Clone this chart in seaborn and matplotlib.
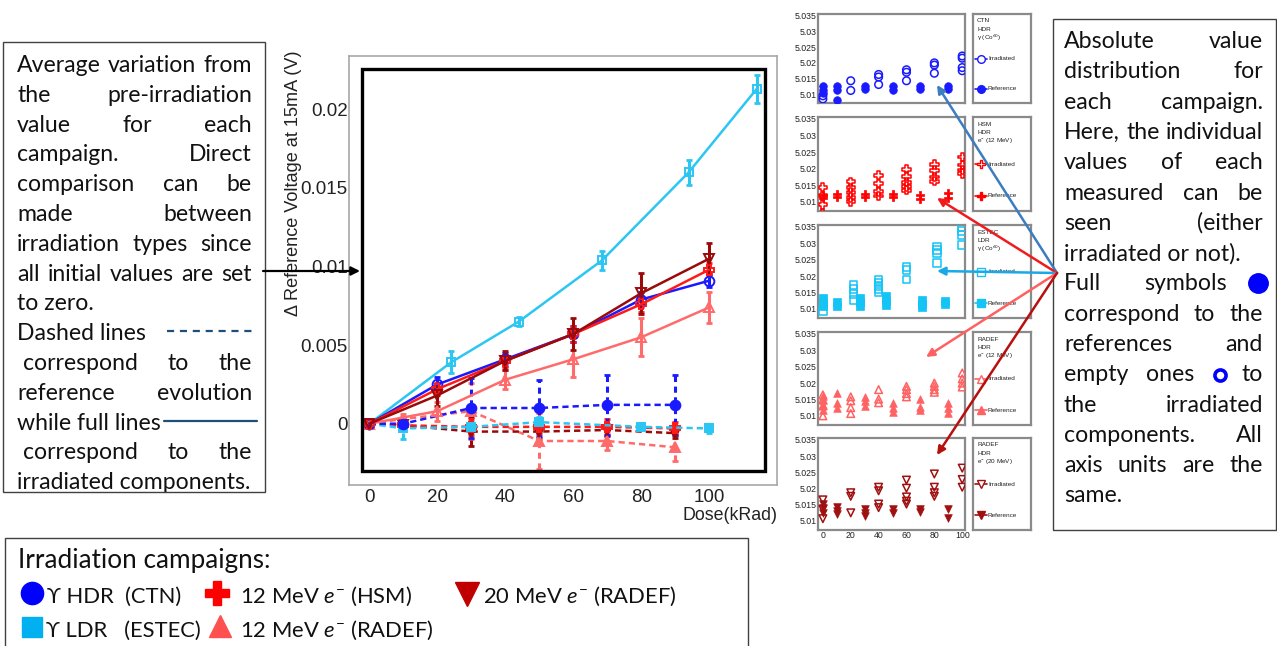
import numpy as np
import pandas as pd
import matplotlib
matplotlib.use("Agg")
import matplotlib.pyplot as plt
import seaborn as sns
from matplotlib.patches import Rectangle, FancyArrowPatch
from matplotlib.lines import Line2D
from matplotlib.ticker import MultipleLocator, FuncFormatter, FixedLocator

# ---------------- data: main plot (delta reference voltage, V) ----------------
dose_irr = [0, 20, 40, 60, 80, 100]
dose_irr_estec = [0, 24, 44, 68.5, 94, 114]
dose_ref = [0, 10, 30, 50, 70, 90]
dose_ref_estec = [0, 10, 30, 50, 80, 100]

ctn_irr = [0, 0.0025, 0.0041, 0.0057, 0.0079, 0.0091]
ctn_irr_err = [0, 0.0005, 0.0004, 0.0005, 0.0005, 0.0004]
hsm_irr = [0, 0.0022, 0.0040, 0.0057, 0.0076, 0.0098]
hsm_irr_err = [0, 0.0004, 0.0004, 0.0005, 0.0005, 0.0004]
estec_irr = [0, 0.0039, 0.0065, 0.0104, 0.0160, 0.0213]
estec_irr_err = [0, 0.0007, 0.0003, 0.0006, 0.0008, 0.0009]
radef12_irr = [0, 0.0008, 0.0028, 0.0041, 0.0055, 0.0074]
radef12_irr_err = [0, 0.0006, 0.0006, 0.0011, 0.0012, 0.0010]
radef20_irr = [0, 0.0018, 0.0040, 0.0057, 0.0083, 0.0105]
radef20_irr_err = [0, 0.0007, 0.0006, 0.0010, 0.0013, 0.0010]

ctn_ref = [0, 0.0, 0.0010, 0.0010, 0.0012, 0.0012]
ctn_ref_err = [0, 0.0003, 0.0019, 0.0018, 0.0019, 0.0019]
hsm_ref = [0, -0.0001, -0.0002, -0.0002, -0.0002, -0.0003]
hsm_ref_err = [0, 0.0003, 0.0005, 0.0004, 0.0005, 0.0004]
estec_ref = [0, -0.0003, -0.0002, 0.0001, -0.0002, -0.0003]
estec_ref_err = [0, 0.0007, 0.0003, 0.0003, 0.0002, 0.0003]
radef12_ref = [0, 0.0003, 0.0008, -0.0011, -0.0011, -0.0015]
radef12_ref_err = [0, 0.0003, 0.0018, 0.0018, 0.0006, 0.0009]
radef20_ref = [0, -0.0001, -0.0005, -0.0005, -0.0004, -0.0006]
radef20_ref_err = [0, 0.0002, 0.0009, 0.0004, 0.0004, 0.0003]

y_ticks = [0, 0.005, 0.01, 0.015, 0.02]
y_tick_labels = ["0", "0.005", "0.01", "0.015", "0.02"]
x_ticks = [0, 20, 40, 60, 80, 100]

# ---------------- data: small panels (absolute values, V) ----------------
p1_irr_x = [0, 0, 20, 20, 40, 40, 40, 60, 60, 60, 80, 80, 80, 100, 100, 100, 100]
p1_irr_y = [5.0085, 5.0095, 5.0143, 5.0112, 5.0163, 5.0155, 5.0131, 5.0178, 5.0170, 5.0143,
            5.0200, 5.0193, 5.0167, 5.0222, 5.0215, 5.0185, 5.0175]
p1_ref_x = [0, 0, 0, 10, 10, 10, 30, 30, 50, 50, 70, 70, 90, 90]
p1_ref_y = [5.0125, 5.0115, 5.0105, 5.0125, 5.0115, 5.0082, 5.0125, 5.0117, 5.0125, 5.0115,
            5.0125, 5.0117, 5.0125, 5.0117]

p2_irr_x = [0, 0, 0, 0, 20, 20, 20, 20, 20, 40, 40, 40, 40, 60, 60, 60, 60, 60,
            80, 80, 80, 80, 100, 100, 100, 100]
p2_irr_y = [5.0144, 5.0118, 5.0092, 5.0066, 5.0160, 5.0142, 5.0128, 5.0113, 5.0100,
            5.0180, 5.0154, 5.0131, 5.0117, 5.0198, 5.0177, 5.0159, 5.0146, 5.0135,
            5.0212, 5.0194, 5.0175, 5.0162, 5.0235, 5.0211, 5.0196, 5.0185]
p2_ref_x = [0, 0, 10, 10, 30, 30, 50, 50, 70, 70, 90, 90]
p2_ref_y = [5.0120, 5.0110, 5.0122, 5.0113, 5.0122, 5.0113, 5.0122, 5.0113, 5.0120, 5.0108,
            5.0125, 5.0110]

p3_irr_x = [0, 22, 22, 22, 22, 40, 40, 40, 40, 40, 60, 60, 60, 82, 82, 82, 82, 100, 100, 100, 100]
p3_irr_y = [5.0093, 5.0172, 5.0160, 5.0145, 5.0127, 5.0190, 5.0180, 5.0170, 5.0160, 5.0152,
            5.0228, 5.0218, 5.0190, 5.0290, 5.0280, 5.0270, 5.0240, 5.0350, 5.0338, 5.0325, 5.0295]
p3_ref_x = [0, 0, 0, 10, 10, 27, 27, 27, 45, 45, 45, 71, 71, 71, 88, 88]
p3_ref_y = [5.0133, 5.0120, 5.0108, 5.0122, 5.0110, 5.0133, 5.0122, 5.0110, 5.0140, 5.0125,
            5.0112, 5.0128, 5.0115, 5.0105, 5.0125, 5.0115]

p4_irr_x = [0, 0, 0, 0, 20, 20, 20, 20, 40, 40, 40, 60, 60, 60, 60, 80, 80, 80, 80,
            100, 100, 100, 100]
p4_irr_y = [5.0164, 5.0149, 5.0130, 5.0100, 5.0158, 5.0146, 5.0125, 5.0107, 5.0180, 5.0151,
            5.0140, 5.0190, 5.0180, 5.0168, 5.0158, 5.0200, 5.0190, 5.0180, 5.0172,
            5.0231, 5.0213, 5.0200, 5.0188]
p4_ref_x = [0, 0, 0, 0, 10, 10, 10, 30, 30, 30, 50, 50, 50, 70, 70, 70, 90, 90, 90]
p4_ref_y = [5.0160, 5.0148, 5.0133, 5.0118, 5.0170, 5.0138, 5.0125, 5.0158, 5.0146, 5.0130,
            5.0138, 5.0125, 5.0113, 5.0150, 5.0128, 5.0118, 5.0138, 5.0123, 5.0108]

p5_irr_x = [0, 0, 0, 20, 20, 20, 40, 40, 40, 40, 60, 60, 60, 60, 60, 80, 80, 80, 80, 100, 100, 100]
p5_irr_y = [5.0165, 5.0136, 5.0107, 5.0187, 5.0176, 5.0125, 5.0204, 5.0193, 5.0152, 5.0141,
            5.0226, 5.0201, 5.0174, 5.0161, 5.0152, 5.0245, 5.0204, 5.0187, 5.0176,
            5.0263, 5.0228, 5.0204]
p5_ref_x = [0, 0, 0, 10, 10, 10, 30, 30, 30, 50, 50, 70, 70, 90, 90]
p5_ref_y = [5.0152, 5.0139, 5.0125, 5.0143, 5.0132, 5.0122, 5.0136, 5.0125, 5.0114, 5.0136,
            5.0125, 5.0136, 5.0127, 5.0136, 5.0109]

small_y_ticks = [5.01, 5.015, 5.02, 5.025, 5.03, 5.035]
small_y_labels = ["5.01", "5.015", "5.02", "5.025", "5.03", "5.035"]
small_x_ticks = [0, 20, 40, 60, 80, 100]

panel_titles = [["CTN", "HDR", "γ (Co$^{60}$)"],
                ["HSM", "HDR", "e$^{-}$ (12 MeV)"],
                ["ESTEC", "LDR", "γ (Co$^{60}$)"],
                ["RADEF", "HDR", "e$^{-}$ (12 MeV)"],
                ["RADEF", "HDR", "e$^{-}$ (20 MeV)"]]

legend_title = "Irradiation campaigns:"
legend_labels = ["ϒ HDR  (CTN)", "12 MeV $e^{-}$ (HSM)", "20 MeV $e^{-}$ (RADEF)",
                 "ϒ LDR   (ESTEC)", "12 MeV $e^{-}$ (RADEF)"]

left_lines = [("Average variation from", "j"), ("the pre-irradiation", "j"),
              ("value for each", "j"), ("campaign. Direct", "j"),
              ("comparison can be", "j"), ("made between", "j"),
              ("irradiation types since", "j"), ("all initial values are  set", "j"),
              ("to zero.", "l"), ("Dashed lines", "l"), ("correspond to the", "ji"),
              ("reference evolution", "j"), ("while full lines", "l"),
              ("correspond to the", "ji"), ("irradiated components.", "l")]
right_lines = [("Absolute value", "j"), ("distribution for", "j"), ("each campaign.", "j"),
               ("Here, the individual", "j"), ("values of each", "j"),
               ("measured can be", "j"), ("seen (either", "j"), ("irradiated or not).", "l"),
               ("Full symbols", "full"), ("correspond to the", "j"), ("references and", "j"),
               ("empty ones", "empty"), ("the irradiated", "j"), ("components. All", "j"),
               ("axis units are the", "j"), ("same.", "l")]

# ---------------- style ----------------
C_BLUE = "#1a1aff"
C_CYAN = "#2cc6f2"
C_RED = "#ff1a1a"
C_SALMON = "#ff6b6b"
C_DRED = "#9a0a0a"

W, H = 1277, 646
sns.set_theme(style="white")
plt.rcParams["font.family"] = ["Liberation Sans", "DejaVu Sans"]
plt.rcParams["mathtext.fontset"] = "custom"
plt.rcParams["mathtext.rm"] = "Lato"
plt.rcParams["mathtext.it"] = "Lato:italic"
plt.rcParams["mathtext.bf"] = "Lato:bold"
SLIDE = ["Lato", "DejaVu Sans"]
ROOTF = ["Liberation Sans", "DejaVu Sans"]

fig = plt.figure(figsize=(W / 100, H / 100), dpi=100)
fig.patch.set_facecolor("white")
R = fig.canvas.get_renderer()


def fx(x):
    return x / W


def fy(y):
    return 1 - y / H


def measure(txt, size, family):
    t = fig.text(0, 0, txt, fontsize=size, family=family)
    w = t.get_window_extent(renderer=R).width
    t.remove()
    return w


def fit(txt, width, family):
    return 10 * width / measure(txt, 10, family)


def box(x0, y0, x1, y1, ec="#404040", lw=1.0):
    fig.add_artist(Rectangle((fx(x0), fy(y1)), fx(x1) - fx(x0), fy(y0) - fy(y1),
                             transform=fig.transFigure, fill=False, ec=ec, lw=lw, zorder=5))


def arrow(p0, p1, color, lw=1.8, ms=12):
    fig.add_artist(FancyArrowPatch((fx(p0[0]), fy(p0[1])), (fx(p1[0]), fy(p1[1])),
                                   transform=fig.transFigure, arrowstyle="-|>",
                                   mutation_scale=ms, color=color, lw=lw, zorder=6,
                                   shrinkA=0, shrinkB=0))


# ---------------- main plot ----------------
axm = fig.add_axes([fx(349), fy(485), (777 - 349) / W, (485 - 56) / H])
axm.set_facecolor("white")


def main_series(x, y, e, color, marker, ref, ms=7):
    dash = (0, (2.5, 1.6))
    sns.lineplot(x=x, y=y, ax=axm, color=color, lw=1.8, linestyle=dash if ref else "-",
                 marker=marker, ms=ms, mec=color, mfc=color if ref else "none", mew=1.4,
                 errorbar=None, sort=False, zorder=3)
    eb = axm.errorbar(x, y, yerr=e, fmt="none", ecolor=color, elinewidth=2.2,
                      capsize=2, capthick=2, zorder=2)
    if ref:
        eb[2][0].set_linestyle((0, (2, 1.5)))


main_series(dose_ref, radef12_ref, radef12_ref_err, C_SALMON, "^", True)
main_series(dose_ref, radef20_ref, radef20_ref_err, C_DRED, "v", True)
main_series(dose_ref, hsm_ref, hsm_ref_err, C_RED, "P", True)
main_series(dose_ref_estec, estec_ref, estec_ref_err, C_CYAN, "s", True, ms=6)
main_series(dose_ref, ctn_ref, ctn_ref_err, C_BLUE, "o", True)
main_series(dose_irr_estec, estec_irr, estec_irr_err, C_CYAN, "s", False, ms=6)
main_series(dose_irr, radef12_irr, radef12_irr_err, C_SALMON, "^", False)
main_series(dose_irr, ctn_irr, ctn_irr_err, C_BLUE, "o", False)
main_series(dose_irr, hsm_irr, hsm_irr_err, C_RED, "P", False)
main_series(dose_irr, radef20_irr, radef20_irr_err, C_DRED, "v", False)

axm.set_xlim(-6, 120)
axm.set_ylim(-0.0039, 0.0234)
axm.xaxis.set_major_locator(FixedLocator(x_ticks))
axm.xaxis.set_minor_locator(MultipleLocator(5))
axm.yaxis.set_major_locator(FixedLocator(y_ticks))
axm.set_yticklabels(y_tick_labels)
axm.yaxis.set_minor_locator(MultipleLocator(0.001))
tick_fs = fit("0.005", 47, ROOTF)
axm.tick_params(axis="both", which="both", direction="in", color="#6a6a6a",
                labelcolor="#222222", labelsize=tick_fs, top=False, right=False)
axm.tick_params(axis="both", which="major", length=7, width=1.0)
axm.tick_params(axis="both", which="minor", length=4, width=1.0)
axm.tick_params(axis="y", pad=1)
axm.tick_params(axis="x", pad=3)
for s in axm.spines.values():
    s.set_color("#a8a8a8")
    s.set_linewidth(1.2)
axm.set_xlabel("")
axm.set_ylabel("")
for lab in axm.get_yticklabels() + axm.get_xticklabels():
    lab.set_family(ROOTF)

lab_fs = fit("Dose(kRad)", 95, ROOTF)
fig.text(fx(777), fy(515), "Dose(kRad)", ha="right", va="center", fontsize=lab_fs,
         family=ROOTF, color="#222222")
ylab = "Δ Reference Voltage at 15mA (V)"
fig.text(fx(294), fy(183), ylab, ha="center", va="center", rotation=90,
         fontsize=fit(ylab, 268, ROOTF), family=ROOTF, color="#222222")

# thick black frame drawn on top of the plot
fig.add_artist(Rectangle((fx(362), fy(471)), fx(765) - fx(362), fy(69) - fy(471),
                         transform=fig.transFigure, fill=False, ec="black", lw=2.4, zorder=7))

# ---------------- small panels ----------------
panel_top = [14, 117, 225, 332, 438]
panel_bot = [103, 211, 318, 425, 530]
panel_data = [(p1_irr_x, p1_irr_y, p1_ref_x, p1_ref_y, C_BLUE, "o"),
              (p2_irr_x, p2_irr_y, p2_ref_x, p2_ref_y, "#ff0000", "P"),
              (p3_irr_x, p3_irr_y, p3_ref_x, p3_ref_y, "#14c4f5", "s"),
              (p4_irr_x, p4_irr_y, p4_ref_x, p4_ref_y, "#ff6262", "^"),
              (p5_irr_x, p5_irr_y, p5_ref_x, p5_ref_y, "#a01010", "v")]
small_fs = fit("5.035", 22, ROOTF)
leg_fs = fit("Irradiated", 27, ROOTF)
for i in range(5):
    ix, iy, rx, ry, col, mk = panel_data[i]
    t, b = panel_top[i], panel_bot[i]
    ax = fig.add_axes([fx(818), fy(b), (965 - 818) / W, (b - t) / H])
    ax.set_facecolor("white")
    sz = 30 if mk != "P" else 36
    sns.scatterplot(x=ix, y=iy, ax=ax, marker=mk, s=sz, color=col, linewidth=1.1, zorder=3)
    ax.collections[-1].set_facecolor("none")
    ax.collections[-1].set_edgecolor(col)
    sns.scatterplot(x=rx, y=ry, ax=ax, marker=mk, s=sz, color=col, linewidth=0.5,
                    edgecolor=col, zorder=3)
    ax.set_xlim(-3.5, 102)
    ax.set_ylim(5.0072, 5.0356)
    ax.yaxis.set_major_locator(FixedLocator(small_y_ticks))
    ax.set_yticklabels(small_y_labels)
    ax.yaxis.set_minor_locator(MultipleLocator(0.001))
    ax.xaxis.set_major_locator(FixedLocator(small_x_ticks))
    ax.xaxis.set_minor_locator(MultipleLocator(10))
    ax.tick_params(axis="both", which="both", direction="in", color="#222222",
                   labelcolor="#222222", labelsize=small_fs, top=False, right=False, pad=1)
    ax.tick_params(axis="both", which="major", length=3.5, width=0.8)
    ax.tick_params(axis="both", which="minor", length=2, width=0.8)
    if i < 4:
        ax.set_xticklabels([])
    for lab in ax.get_yticklabels() + ax.get_xticklabels():
        lab.set_family(ROOTF)
    ax.set_xlabel("")
    ax.set_ylabel("")
    for nm, s in ax.spines.items():
        s.set_color("#8a8a8a")
        s.set_linewidth(1.6)
    # legend box of the panel
    lg = fig.add_axes([fx(973), fy(b), (1031 - 973) / W, (b - t) / H])
    lg.set_xlim(0, 58)
    lg.set_ylim(b - t, 0)
    lg.set_xticks([])
    lg.set_yticks([])
    lg.set_facecolor("white")
    for s in lg.spines.values():
        s.set_color("#8a8a8a")
        s.set_linewidth(1.6)
    for k, line in enumerate(panel_titles[i]):
        lg.text(4, 7 + 8.5 * k, line, fontsize=leg_fs, family=ROOTF, va="center",
                ha="left", color="#222222")
    h = b - t
    for yy, lbl, filled in [(0.5 * h, "Irradiated", False), (0.84 * h, "Reference", True)]:
        lg.plot([2, 14], [yy, yy], color=col, lw=1.2)
        lg.plot([8], [yy], marker=mk, ms=5.5, color=col, mec=col,
                mfc=col if filled else "white", mew=1.0)
        lg.text(15, yy, lbl, fontsize=leg_fs, family=ROOTF, va="center", ha="left",
                color="#222222")

# ---------------- slide text boxes ----------------
def justified(lines, x0, x1, ybase0, dy, size, extra=None):
    for i, (line, mode) in enumerate(lines):
        y = ybase0 + i * dy
        if extra and mode in extra:
            extra[mode](line, y, size)
            continue
        xs = x0 + (6 if mode == "ji" else 0)
        words = line.split()
        if mode == "l" or len(words) == 1:
            fig.text(fx(xs), fy(y), line, fontsize=size, family=SLIDE, ha="left",
                     va="baseline", color="#111111")
            continue
        widths = [measure(w, size, SLIDE) for w in words]
        gap = (x1 - xs - sum(widths)) / (len(words) - 1)
        x = xs
        for w, wd in zip(words, widths):
            fig.text(fx(x), fy(y), w, fontsize=size, family=SLIDE, ha="left",
                     va="baseline", color="#111111")
            x += wd + gap


left_fs = fit("irradiated components.", 234, SLIDE)
box(3, 42, 265, 492)
justified(left_lines, 17, 252, 72, 29.8, left_fs)
fig.add_artist(Line2D([fx(167), fx(255)], [fy(331), fy(331)], transform=fig.transFigure,
                      color="#1f4e79", lw=1.6, dashes=(3.2, 2.6), zorder=6))
fig.add_artist(Line2D([fx(164), fx(257)], [fy(421), fy(421)], transform=fig.transFigure,
                      color="#1f4e79", lw=1.6, zorder=6))
arrow((263, 271), (360, 271), "black", lw=1.6, ms=13)

right_fs = fit("irradiated or not).", 178, SLIDE)


def full_line(line, y, size):
    words = line.split()
    fig.text(fx(1064), fy(y), words[0], fontsize=size, family=SLIDE, ha="left",
             va="baseline", color="#111111")
    fig.text(fx(1227), fy(y), words[1], fontsize=size, family=SLIDE, ha="right",
             va="baseline", color="#111111")
    fig.add_artist(Line2D([fx(1258)], [fy(y - 7)], transform=fig.transFigure, marker="o",
                          ms=14, color="#0000ff", mec="#0000ff", zorder=6))


def empty_line(line, y, size):
    words = line.split()
    fig.text(fx(1064), fy(y), words[0], fontsize=size, family=SLIDE, ha="left",
             va="baseline", color="#111111")
    fig.text(fx(1146), fy(y), words[1], fontsize=size, family=SLIDE, ha="left",
             va="baseline", color="#111111")
    fig.add_artist(Line2D([fx(1220)], [fy(y - 6)], transform=fig.transFigure, marker="o",
                          ms=8, mfc="white", mec="#0000ff", mew=2.6, zorder=6))
    fig.text(fx(1263), fy(y), "to", fontsize=size, family=SLIDE, ha="right",
             va="baseline", color="#111111")


box(1053, 19, 1276, 530)
justified(right_lines, 1064, 1263, 48, 30.3, right_fs,
          extra={"full": full_line, "empty": empty_line})

arrow_src = (1057, 273)
arrow(arrow_src, (937, 85), "#3b7dbf")
arrow(arrow_src, (937, 198), "#ee1c1c")
arrow(arrow_src, (937, 271), "#19a9e6")
arrow(arrow_src, (926, 357), "#ff6060")
arrow(arrow_src, (937, 455), "#b80f0f")

# ---------------- campaign legend ----------------
box(5, 538, 748, 652)
leg_title_fs = fit(legend_title, 252, SLIDE)
fig.text(fx(18), fy(568), legend_title, fontsize=leg_title_fs, family=SLIDE, ha="left",
         va="baseline", color="#111111")
item_fs = fit(legend_labels[2], 195, SLIDE)
leg_items = [(32, 593, "o", "#0000ff", 16, 47, 603),
             (217, 593, "P", "#ff0000", 17, 240, 603),
             (467, 594, "v", "#c00000", 17, 483, 603),
             (32, 627, "s", "#00b0f0", 15, 46, 637),
             (220, 626, "^", "#ff5050", 16, 240, 637)]
for (mx, my, mk, col, ms, tx, ty), lbl in zip(leg_items, legend_labels):
    fig.add_artist(Line2D([fx(mx)], [fy(my)], transform=fig.transFigure, marker=mk, ms=ms,
                          color=col, mec=col, zorder=6))
    fig.text(fx(tx), fy(ty), lbl, fontsize=item_fs, family=SLIDE, ha="left",
             va="baseline", color="#111111")

fig.savefig("out.png", dpi=100, facecolor="white")
